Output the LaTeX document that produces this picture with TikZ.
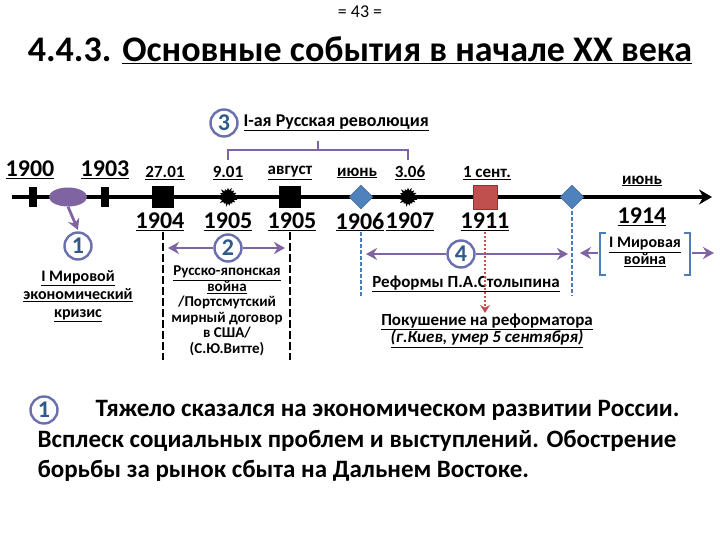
\documentclass[tikz,border=0pt]{standalone}
\usepackage{fontspec}
\setmainfont{Carlito}
\usetikzlibrary{shapes.geometric,shapes.symbols,shapes.misc,arrows.meta}
\definecolor{purp}{HTML}{8064A2}
\definecolor{ring}{HTML}{6A6FAE}
\definecolor{numc}{HTML}{2F5A8A}
\definecolor{dia}{HTML}{4F81BD}
\definecolor{redb}{HTML}{C0504D}
\definecolor{dblue}{HTML}{4A7EBB}
\tikzset{
 num/.style={circle,draw=ring,line width=2.4pt,fill=white,text=numc,font=\bfseries\fontsize{24}{24}\selectfont,inner sep=0pt,minimum size=27pt},
 yr/.style={font=\bfseries\fontsize{24}{25}\selectfont},
 sm/.style={font=\bfseries\fontsize{17}{18}\selectfont},
 lab/.style={font=\bfseries\fontsize{16}{17}\selectfont,align=center},
 parr/.style={draw=purp,line width=2.8pt,-{Stealth[length=11pt,width=12pt]}},
 bar/.style={fill=black,minimum width=8pt,minimum height=20pt,inner sep=0pt},
 sq/.style={fill=black,minimum size=22pt,inner sep=0pt},
 burst/.style={starburst,fill=black,minimum size=21pt,inner sep=0pt,starburst point height=4pt},
 dm/.style={diamond,fill=dia,draw=dia!70!black,minimum size=24pt,inner sep=0pt},
}
\begin{document}
\begin{tikzpicture}[x=1pt,y=-1pt]
\useasboundingbox (0,0) rectangle (720,540);
\node at (360,12) {\fontsize{18}{18}\selectfont = 43 =};
\node (title) at (360,50) {\bfseries\fontsize{36}{36}\selectfont 4.4.3. \underline{Основные события в начале XX века}};
% timeline
\coordinate (ls) at (12,197); \coordinate (le) at (712,197);
\draw[line width=3.5pt,-{Stealth[length=13pt,width=15pt]}] (ls) -- (le);
\node[bar] (m1900) at (33,197) {};
\node[ellipse,fill=purp,minimum width=38pt,minimum height=19pt,inner sep=0pt] (ell) at (68,197) {};
\node[bar] (m1903) at (105,197) {};
\node[sq] (m1904) at (163,197) {};
\node[burst] (m1905) at (228,197) {};
\node[sq] (m1905b) at (290,197) {};
\node[dm] (m1906) at (361,197) {};
\node[burst] (m1907) at (408,197) {};
\node[fill=redb,draw=redb!70!black,minimum size=24pt,inner sep=0pt] (m1911) at (485,197) {};
\node[dm] (m1914) at (572,197) {};
% above
\node[yr] (a1) at (30,170) {\underline{1900}};
\node[yr] (a2) at (105,170) {\underline{1903}};
\node[sm] (a3) at (165,173) {\underline{27.01}};
\node[sm] (a4) at (228,173) {\underline{9.01}};
\node[sm] (a5) at (290,173) {\underline{август}};
\node[sm] (a6) at (357,173) {\underline{июнь}};
\node[sm] (a7) at (410,173) {\underline{3.06}};
\node[sm] (a8) at (487,173) {\underline{1 сент.}};
\node[sm] (a9) at (642,181) {\underline{июнь}};
% below
\node[yr] (b1) at (160,222) {\underline{1904}};
\node[yr] (b2) at (228,222) {\underline{1905}};
\node[yr] (b3) at (292,222) {\underline{1905}};
\node[yr] (b4) at (360,222) {\underline{1906}};
\node[yr] (b5) at (410,222) {\underline{1907}};
\node[yr] (b6) at (485,222) {\underline{1911}};
\node[yr] (b7) at (642,217) {\underline{1914}};
% revolution
\node[num] (n3) at (224,123) {3};
\node[font=\bfseries\fontsize{18}{18}\selectfont,anchor=west] (rev) at (240,123) {\underline{I-ая Русская революция}};
\coordinate (r1) at (228,160); \coordinate (r2) at (408,160); \coordinate (rc) at (318,141);
\draw[purp,line width=2.5pt] (r1) -- (228,150) -- (408,150) -- (r2);
\draw[purp,line width=2.5pt] (318,150) -- (rc);
% 1
\node[num] (n1) at (78,246) {1};
\draw[parr] (ell.south) -- (78,230);
\node[lab] (t1) at (78,296) {\underline{I Мировой}\\[1pt]\underline{экономический}\\[1pt]\underline{кризис}};
% 2
\draw[line width=2pt,dash pattern=on 8pt off 3pt] (163,232) -- (163,360);
\draw[line width=2pt,dash pattern=on 8pt off 3pt] (290,232) -- (290,360);
\node[num] (n2) at (228,248) {2};
\draw[parr] (n2.west) -- (168,248);
\draw[parr] (n2.east) -- (285,248);
\node[lab,font=\bfseries\fontsize{15}{15.5}\selectfont] (t2) at (227,311) {\underline{Русско-японская}\\\underline{война}\\/Портсмутский\\мирный договор\\в США/\\(С.Ю.Витте)};
% 4
\draw[dblue,line width=2pt,dash pattern=on 4pt off 2pt] (361,232) -- (361,296);
\draw[dblue,line width=2pt,dash pattern=on 4pt off 2pt] (572,211) -- (572,296);
\node[num] (n4) at (461,254) {4};
\draw[parr] (n4.west) -- (366,254);
\draw[parr] (n4.east) -- (568,254);
\node[lab,font=\bfseries\fontsize{17}{17}\selectfont] (t4) at (466,284) {\underline{Реформы П.А.Столыпина}};
\draw[redb,line width=2pt,dash pattern=on 2pt off 2pt,-{Stealth[length=8pt,width=10pt]}] (485,232) -- (485,313);
\node[lab,font=\bfseries\fontsize{17}{17}\selectfont] (t5) at (487,322) {\underline{Покушение на реформатора}};
\node[lab,font=\bfseries\itshape\fontsize{17}{17}\selectfont] (t6) at (487,339) {\underline{(г.Киев, умер 5 сентября)}};
% WWI
\draw[dblue,line width=1.8pt] (606,233) -- (600,233) -- (600,275) -- (606,275);
\draw[dblue,line width=1.8pt] (684,233) -- (690,233) -- (690,275) -- (684,275);
\node[lab,font=\bfseries\fontsize{16}{15}\selectfont] (ww) at (645,252) {\underline{I Мировая}\\\underline{война}};
\draw[parr] (598,253) -- (580,253);
\draw[parr] (692,253) -- (714,253);
% bottom
\node[num] (nb) at (44,410) {1};
\node[font=\bfseries\fontsize{25}{30}\selectfont,anchor=west] (l1) at (92,410) {Тяжело сказался на экономическом развитии России.};
\node[font=\bfseries\fontsize{25}{30}\selectfont,anchor=west] (l2) at (34,441) {Всплеск социальных проблем и выступлений. Обострение};
\node[font=\bfseries\fontsize{25}{30}\selectfont,anchor=west] (l3) at (34,471) {борьбы за рынок сбыта на Дальнем Востоке.};
\end{tikzpicture}
\end{document}
